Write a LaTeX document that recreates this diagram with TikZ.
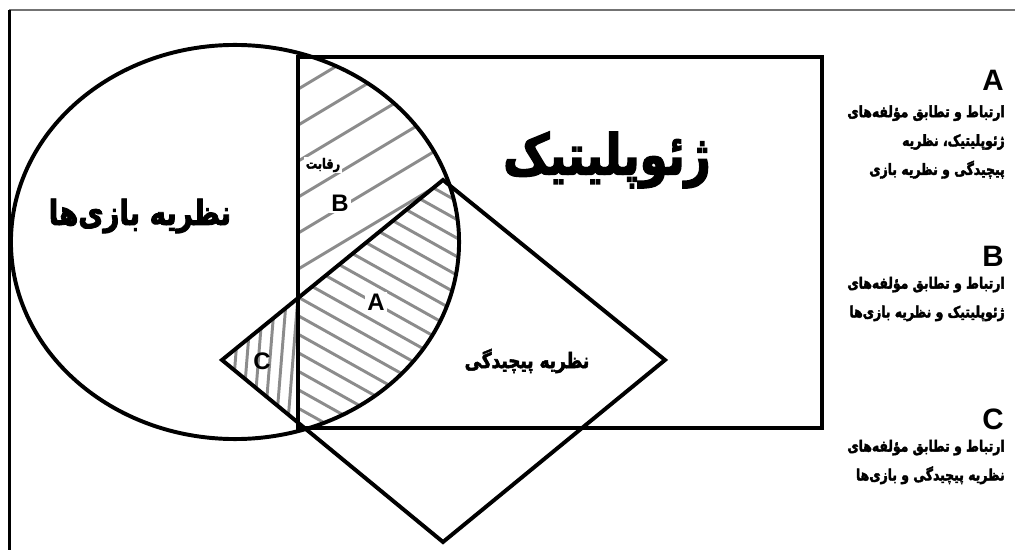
\documentclass[tikz,border=0pt]{standalone}
\usepackage{fontspec}
\setmainfont{Liberation Sans}
\newfontfamily\fafont[Script=Arabic, FakeStretch=0.8, BoldFeatures={FakeBold=2.5}]{DejaVu Sans}
\TeXXeTstate=1
\newcommand{\fa}[1]{{\fafont\bfseries\beginR #1\endR}}

\begin{document}
\begin{tikzpicture}[x=0.025cm, y=-0.025cm,
    outline/.style={draw=black, line width=2.8pt, line join=miter},
    hatch/.style={draw=black!45, line width=2.1pt},
    tag/.style={font=\bfseries\fontsize{17}{17}\selectfont, inner sep=1.5pt},
    head/.style={anchor=east, font=\bfseries\fontsize{21}{21}\selectfont, inner sep=0pt},
    note/.style={align=right, anchor=east, inner sep=0pt,
                 font=\fontsize{11}{20.5}\selectfont}]
  \useasboundingbox (0,0) rectangle (1015,550);
  \draw[black!55, line width=1.5pt] (9,10) -- (1015,10);
  \draw[line width=1.5pt] (9.5,10) -- (9.5,550);

  \coordinate (dL) at (222,360);
  \coordinate (dT) at (443,180);
  \coordinate (dR) at (665,360);
  \coordinate (dB) at (443,542);

  % region A
  \begin{scope}
    \clip (235,242) ellipse [x radius=5.6cm, y radius=4.925cm];
    \clip (298,57) rectangle (822,428);
    \clip (dL) -- (dT) -- (dR) -- (dB) -- cycle;
    \foreach \k in {-12,...,8}
      \draw[hatch] (280,287+18.5*\k) -- (480,399+18.5*\k);
  \end{scope}
  % region B
  \begin{scope}
    \clip (235,242) ellipse [x radius=5.6cm, y radius=4.925cm];
    \clip (298,57) rectangle (822,428);
    \clip (200,378) -- (480,150) -- (480,0) -- (200,0) -- cycle;
    \foreach \k in {-2,...,7}
      \draw[hatch] (280,100+36*\k) -- (480,-20+36*\k);
  \end{scope}
  % region C
  \begin{scope}
    \clip (235,242) ellipse [x radius=5.6cm, y radius=4.925cm];
    \clip (dL) -- (dT) -- (dR) -- (dB) -- cycle;
    \clip (200,280) rectangle (298,440);
    \foreach \k in {0,...,5}
      \draw[hatch] (241+11.5*\k,290) -- (229+11.5*\k,440);
  \end{scope}

  \draw[outline] (235,242) ellipse [x radius=5.6cm, y radius=4.925cm];
  \draw[outline] (298,57) rectangle (822,428);
  \draw[outline] (dL) -- (dT) -- (dR) -- (dB) -- cycle;

  \node[font=\fontsize{40}{40}\selectfont] (geo) at (607,160) {\fa{ژئوپلیتیک}};
  \node[font=\fontsize{24.5}{24.5}\selectfont] (game) at (140,216) {\fa{نظریه بازی^^^^200cها}};
  \node[font=\fontsize{15}{15}\selectfont] (cplx) at (527,361) {\fa{نظریه پیچیدگی}};
  \node[fill=white, inner sep=1pt, font=\fontsize{10}{10}\selectfont] (rival) at (323,165) {\fa{رقابت}};
  \node[tag, fill=white] (tagB) at (340,203) {B};
  \node[tag, fill=white] (tagA) at (376,302) {A};
  \node[tag] (tagC) at (262,361) {C};

  \node[head] (headA) at (1004,80) {A};
  \node[note] (noteA) at (1005,142) {\fa{ارتباط و تطابق مؤلفه^^^^200cهای}\\\fa{ژئوپلیتیک، نظریه}\\\fa{پیچیدگی و نظریه بازی}};
  \node[head] (headB) at (1004,256) {B};
  \node[note] (noteB) at (1005,299) {\fa{ارتباط و تطابق مؤلفه^^^^200cهای}\\\fa{ژئوپلیتیک و نظریه بازی^^^^200cها}};
  \node[head] (headC) at (1004,419) {C};
  \node[note] (noteC) at (1005,462) {\fa{ارتباط و تطابق مؤلفه^^^^200cهای}\\\fa{نظریه پیچیدگی و بازی^^^^200cها}};
\end{tikzpicture}
\end{document}
